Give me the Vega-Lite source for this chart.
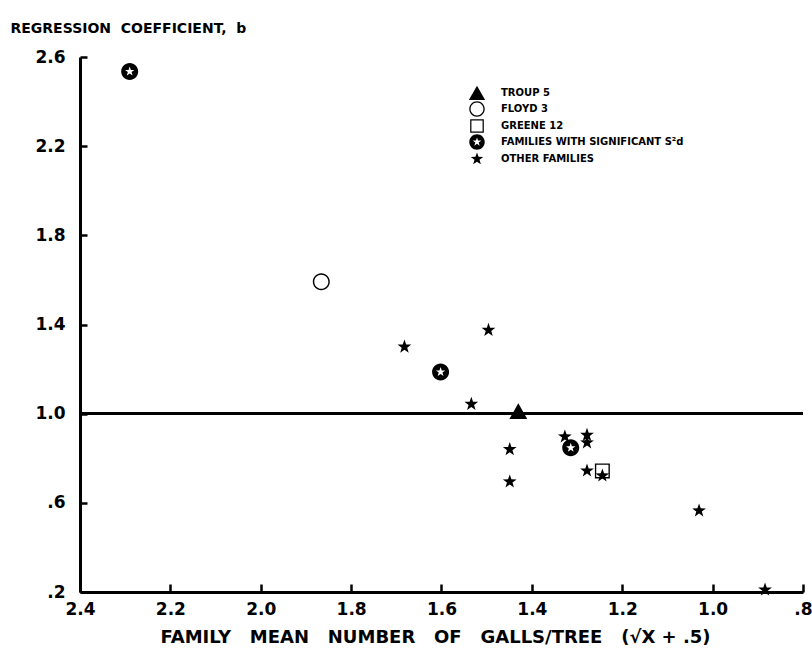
{
  "$schema": "https://vega.github.io/schema/vega-lite/v6.json",
  "width": 723,
  "height": 535,
  "autosize": {"type": "none"},
  "padding": {"left": 80, "top": 57, "right": 9, "bottom": 66},
  "background": "white",
  "config": {
    "view": {"stroke": null},
    "font": "DejaVu Sans",
    "axis": {
      "grid": false,
      "domainColor": "black",
      "domainWidth": 3,
      "tickColor": "black",
      "tickWidth": 2.5,
      "labelColor": "black",
      "labelFont": "DejaVu Sans",
      "labelFontWeight": "bold",
      "labelFontSize": 17,
      "labelFlush": false,
      "labelOverlap": false,
      "titleColor": "black",
      "titleFont": "DejaVu Sans",
      "titleFontWeight": "bold"
    }
  },
  "data": {
    "values": [
      {"x": 2.29, "b": 2.535, "group": "FAMILIES WITH SIGNIFICANT S²d"},
      {"x": 1.602, "b": 1.187, "group": "FAMILIES WITH SIGNIFICANT S²d"},
      {"x": 1.314, "b": 0.847, "group": "FAMILIES WITH SIGNIFICANT S²d"},
      {"x": 1.866, "b": 1.592, "group": "FLOYD 3"},
      {"x": 1.43, "b": 1.01, "group": "TROUP 5"},
      {"x": 1.244, "b": 0.743, "group": "GREENE 12"},
      {"x": 1.682, "b": 1.30, "group": "OTHER FAMILIES"},
      {"x": 1.496, "b": 1.375, "group": "OTHER FAMILIES"},
      {"x": 1.534, "b": 1.043, "group": "OTHER FAMILIES"},
      {"x": 1.449, "b": 0.84, "group": "OTHER FAMILIES"},
      {"x": 1.449, "b": 0.695, "group": "OTHER FAMILIES"},
      {"x": 1.327, "b": 0.897, "group": "OTHER FAMILIES"},
      {"x": 1.278, "b": 0.904, "group": "OTHER FAMILIES"},
      {"x": 1.278, "b": 0.87, "group": "OTHER FAMILIES"},
      {"x": 1.278, "b": 0.744, "group": "OTHER FAMILIES"},
      {"x": 1.244, "b": 0.722, "group": "OTHER FAMILIES"},
      {"x": 1.03, "b": 0.565, "group": "OTHER FAMILIES"},
      {"x": 0.884, "b": 0.21, "group": "OTHER FAMILIES"}
    ]
  },
  "layer": [
    {
      "mark": {"type": "rule", "color": "black", "strokeWidth": 2.5},
      "encoding": {"y": {"datum": 1.0, "type": "quantitative"}}
    },
    {
      "mark": {"type": "point", "filled": true, "color": "black", "strokeWidth": 0, "opacity": 1, "size": 289},
      "encoding": {
        "x": {
          "field": "x",
          "type": "quantitative",
          "scale": {"domain": [0.8, 2.4], "reverse": true, "nice": false, "zero": false},
          "axis": {
            "orient": "bottom",
            "values": [2.4, 2.2, 2.0, 1.8, 1.6, 1.4, 1.2, 1.0, 0.8],
            "tickSize": -8,
            "labelPadding": 17,
            "labelExpr": "datum.value < 1 ? substring(format(datum.value, '.1f'), 1) : format(datum.value, '.1f')",
            "title": "FAMILY\u00a0\u00a0\u00a0MEAN\u00a0\u00a0\u00a0NUMBER\u00a0\u00a0\u00a0OF\u00a0\u00a0\u00a0GALLS/TREE\u00a0\u00a0\u00a0(√X + .5)",
            "titleFontSize": 18,
            "titleAnchor": null,
            "titleAlign": "center",
            "titleBaseline": "middle",
            "titleX": 355,
            "titleY": 45
          }
        },
        "y": {
          "field": "b",
          "type": "quantitative",
          "scale": {"domain": [0.2, 2.6], "nice": false, "zero": false},
          "axis": {
            "orient": "left",
            "values": [0.2, 0.6, 1.0, 1.4, 1.8, 2.2, 2.6],
            "tickSize": -7,
            "labelPadding": 22,
            "labelExpr": "datum.value < 1 ? substring(format(datum.value, '.1f'), 1) : format(datum.value, '.1f')",
            "title": "REGRESSION\u00a0\u00a0COEFFICIENT,\u00a0\u00a0b",
            "titleFontSize": 14,
            "titleAngle": 0,
            "titleAlign": "left",
            "titleBaseline": "middle",
            "titleX": -70,
            "titleY": -29
          }
        },
        "shape": {
          "field": "group",
          "type": "nominal",
          "scale": {
            "domain": ["TROUP 5", "FLOYD 3", "GREENE 12", "FAMILIES WITH SIGNIFICANT S²d", "OTHER FAMILIES"],
            "range": [
              "M0,-0.95L1.05,0.9L-1.05,0.9Z",
              "M0,-1A1,1 0 1,1 0,1A1,1 0 1,1 0,-1ZM0,-0.83A0.83,0.83 0 1,0 0,0.83A0.83,0.83 0 1,0 0,-0.83Z",
              "M-0.88,-0.88L0.88,-0.88L0.88,0.88L-0.88,0.88ZM-0.72,-0.72L-0.72,0.72L0.72,0.72L0.72,-0.72Z",
              "M0,-1A1,1 0 1,1 0,1A1,1 0 1,1 0,-1ZM0,-0.58L-0.136,-0.188L-0.552,-0.179L-0.22,0.072L-0.341,0.469L0,0.232L0.341,0.469L0.22,0.072L0.552,-0.179L0.136,-0.188Z",
              "M0,-0.85L0.2,-0.275L0.808,-0.263L0.323,0.105L0.5,0.688L0,0.34L-0.5,0.688L-0.323,0.105L-0.808,-0.263L-0.2,-0.275Z"
            ]
          },
          "legend": {
            "title": null,
            "orient": "none",
            "legendX": 389,
            "legendY": 28,
            "padding": 0,
            "symbolSize": 240,
            "symbolFillColor": "black",
            "symbolStrokeWidth": 0,
            "labelFont": "DejaVu Sans",
            "labelFontWeight": "bold",
            "labelFontSize": 10,
            "labelColor": "black",
            "labelOffset": 16,
            "labelLimit": 300,
            "rowPadding": 1
          }
        }
      }
    }
  ]
}
